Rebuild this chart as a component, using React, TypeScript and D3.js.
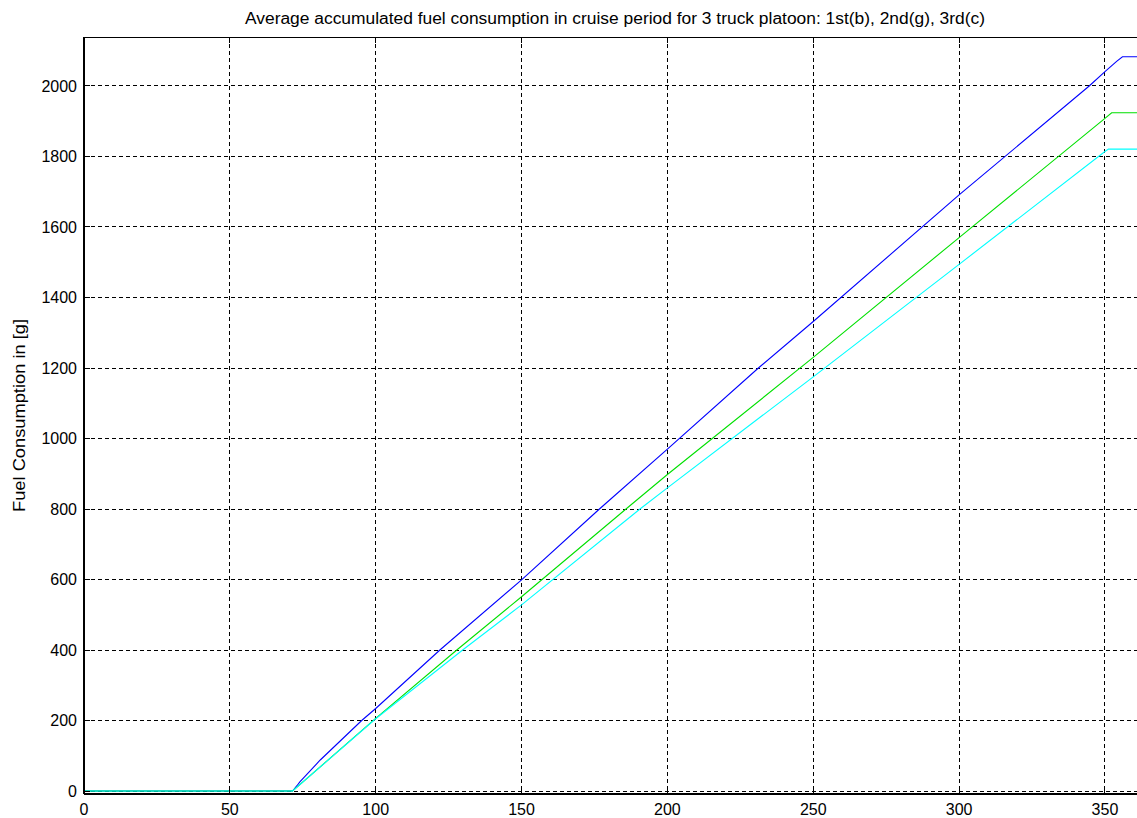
import React from "react";
import * as d3 from "d3";

const title = "Average accumulated fuel consumption in cruise period for 3 truck platoon: 1st(b), 2nd(g), 3rd(c)";
const yLabel = "Fuel Consumption in [g]";
const xTicks = [0, 50, 100, 150, 200, 250, 300, 350];
const yTicks = [0, 200, 400, 600, 800, 1000, 1200, 1400, 1600, 1800, 2000];

const blueX = [0, 71.5, 73, 74, 81, 95.2, 100, 122, 150, 176.7, 200, 231.2, 250, 300, 344.6, 350, 354, 356, 364];
const blueY = [0, 0, 15, 26, 88, 200, 234, 400, 599, 800, 970, 1200, 1332, 1691, 2000, 2041, 2070, 2083, 2083];
const greenX = [0, 71.5, 100, 127.8, 150, 185.8, 200, 250, 300, 350, 352.3, 364];
const greenY = [0, 0, 206, 400, 551, 800, 898, 1230, 1570, 1908, 1924, 1924];
const cyanX = [0, 71.5, 100, 129.8, 150, 190.6, 200, 250, 300, 350, 351.2, 364];
const cyanY = [0, 0, 205, 400, 528, 800, 860, 1175, 1494, 1814, 1821, 1821];

const series = [
  { xs: blueX, ys: blueY, color: "#0000ff" },
  { xs: greenX, ys: greenY, color: "#00e000" },
  { xs: cyanX, ys: cyanY, color: "#00ffff" },
];

export default function App() {
  const W = 1137, H = 818;
  const left = 84, top = 37, bottom = 794;
  const x = d3.scaleLinear().domain([0, 364]).range([left, left + 364 * 2.917]);
  const y = d3.scaleLinear().domain([-8.5, 2139]).range([bottom, top]);
  const right = x(364);
  const line = d3.line<[number, number]>().x(d => x(d[0])).y(d => y(d[1]));
  const font = "Arial, 'Liberation Sans', sans-serif";
  return (
    <div style={{ position: "absolute", left: 0, top: 0 }}>
      <svg width={W} height={H} style={{ display: "block", background: "#fff" }}>
        <rect x={0} y={0} width={W} height={H} fill="#fff" />
        {/* grid */}
        {xTicks.map(t => (
          <line key={"gx" + t} x1={x(t)} x2={x(t)} y1={top} y2={bottom} stroke="#000" strokeWidth={1} strokeDasharray="4,3" shapeRendering="crispEdges" />
        ))}
        {yTicks.map(t => (
          <line key={"gy" + t} x1={left} x2={right} y1={y(t)} y2={y(t)} stroke="#000" strokeWidth={1} strokeDasharray="4,3" shapeRendering="crispEdges" />
        ))}
        {/* series */}
        {series.map((s, i) => (
          <path key={i} d={line(s.xs.map((v, j) => [v, s.ys[j]] as [number, number])) || ""} fill="none" stroke={s.color} strokeWidth={1.1} />
        ))}
        {/* axes */}
        <line x1={left} x2={right} y1={top} y2={top} stroke="#000" strokeWidth={1} shapeRendering="crispEdges" />
        <line x1={left} x2={right} y1={bottom} y2={bottom} stroke="#000" strokeWidth={1.5} shapeRendering="crispEdges" />
        <line x1={left} x2={left} y1={top} y2={bottom} stroke="#000" strokeWidth={1.5} shapeRendering="crispEdges" />
        {xTicks.map(t => (
          <g key={"tx" + t}>
            <line x1={x(t)} x2={x(t)} y1={bottom} y2={bottom - 6} stroke="#000" shapeRendering="crispEdges" />
            <line x1={x(t)} x2={x(t)} y1={top} y2={top + 6} stroke="#000" shapeRendering="crispEdges" />
            <text x={x(t)} y={815} textAnchor="middle" fontFamily={font} fontSize={16} fill="#000">{t}</text>
          </g>
        ))}
        {yTicks.map(t => (
          <g key={"ty" + t}>
            <line x1={left} x2={left + 6} y1={y(t)} y2={y(t)} stroke="#000" shapeRendering="crispEdges" />
            <text x={77} y={y(t)} dy="0.36em" textAnchor="end" fontFamily={font} fontSize={16} fill="#000">{t}</text>
          </g>
        ))}
        <text x={615} y={24} textAnchor="middle" fontFamily={font} fontSize={16} fill="#000" textLength={740} lengthAdjust="spacingAndGlyphs">{title}</text>
        <text transform={`translate(25, ${(top + bottom) / 2}) rotate(-90)`} textAnchor="middle" fontFamily={font} fontSize={16} fill="#000" textLength={193} lengthAdjust="spacingAndGlyphs">{yLabel}</text>
      </svg>
    </div>
  );
}
